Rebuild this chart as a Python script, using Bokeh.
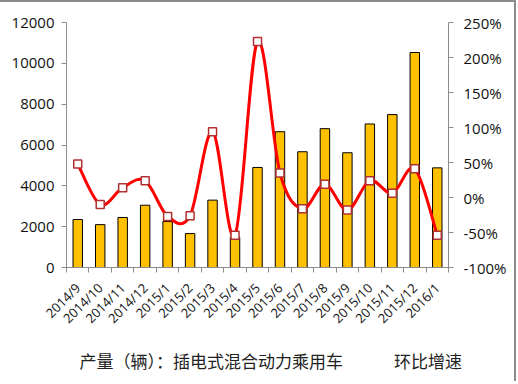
from bokeh.plotting import figure
from bokeh.models import (Range1d, LinearAxis, FixedTicker, NumeralTickFormatter, Title)
from bokeh.embed import file_html
from bokeh.resources import INLINE
import math

categories = ["2014/9", "2014/10", "2014/11", "2014/12", "2015/1", "2015/2", "2015/3",
              "2015/4", "2015/5", "2015/6", "2015/7", "2015/8", "2015/9", "2015/10",
              "2015/11", "2015/12", "2016/1"]
production = [2350, 2100, 2450, 3050, 2250, 1660, 3300, 1480, 4900, 6650, 5670,
              6800, 5620, 7030, 7490, 10530, 4880]
growth = [0.48, -0.10, 0.14, 0.24, -0.27, -0.26, 0.94, -0.54, 2.23, 0.35, -0.16,
          0.19, -0.18, 0.24, 0.06, 0.41, -0.54]
left_ticks = [0, 2000, 4000, 6000, 8000, 10000, 12000]
right_ticks = [-1.0, -0.5, 0.0, 0.5, 1.0, 1.5, 2.0, 2.5]
series_names = ["产量（辆）：插电式混合动力乘用车", "环比增速"]

n = len(categories)
xs = [i + 0.5 for i in range(n)]

FONT = "Open Sans"
CJK = "Noto Sans CJK SC"
AXIS_COLOR = "#8c8c8c"

p = figure(width=514, height=376, frame_width=382, frame_height=245,
           output_backend="svg", toolbar_location=None,
           x_range=Range1d(0, n), y_range=Range1d(0, 12000),
           min_border_left=66, min_border_right=66, min_border_top=20,
           min_border_bottom=20)
p.outline_line_color = None
p.grid.visible = False
p.extra_y_ranges = {"pct": Range1d(-1.0, 2.5)}

bars = p.vbar(x=xs, top=production, width=0.42, bottom=0,
              fill_color="#FFC000", line_color="#000000", line_width=1)

# smoothed line (Catmull-Rom -> cubic Bezier, as in spreadsheet smoothing)
x0, y0, x1, y1, cx0, cy0, cx1, cy1 = [], [], [], [], [], [], [], []
for i in range(n - 1):
    pm = (xs[max(i - 1, 0)], growth[max(i - 1, 0)])
    pa = (xs[i], growth[i])
    pb = (xs[i + 1], growth[i + 1])
    pn = (xs[min(i + 2, n - 1)], growth[min(i + 2, n - 1)])
    x0.append(pa[0]); y0.append(pa[1]); x1.append(pb[0]); y1.append(pb[1])
    cx0.append(pa[0] + (pb[0] - pm[0]) / 6); cy0.append(pa[1] + (pb[1] - pm[1]) / 6)
    cx1.append(pb[0] - (pn[0] - pa[0]) / 6); cy1.append(pb[1] - (pn[1] - pa[1]) / 6)
curve = p.bezier(x0=x0, y0=y0, x1=x1, y1=y1, cx0=cx0, cy0=cy0, cx1=cx1, cy1=cy1,
                 line_color="#FF0000", line_width=3, y_range_name="pct")
marks = p.scatter(x=xs, y=growth, marker="square", size=8, fill_color="white",
                  line_color="#B03030", line_width=1.5, y_range_name="pct")

# axes
p.xaxis.ticker = FixedTicker(ticks=xs, minor_ticks=list(range(n + 1)))
p.xaxis.major_label_overrides = {x: c for x, c in zip(xs, categories)}
p.xaxis.major_label_orientation = math.pi / 4
p.xaxis.major_tick_line_color = None
p.xaxis.minor_tick_line_color = AXIS_COLOR
p.xaxis.minor_tick_out = 5
p.xaxis.minor_tick_in = 0
p.xaxis.major_label_text_font = FONT
p.xaxis.major_label_text_font_size = "13px"
p.xaxis.major_label_text_color = "#111111"
p.xaxis.major_label_standoff = 12
p.xaxis.axis_line_color = AXIS_COLOR

p.yaxis.ticker = FixedTicker(ticks=left_ticks, minor_ticks=[])
p.yaxis.major_tick_out = 5
p.yaxis.major_tick_in = 0
p.yaxis.major_tick_line_color = AXIS_COLOR
p.yaxis.axis_line_color = AXIS_COLOR
p.yaxis.major_label_text_font = FONT
p.yaxis.major_label_text_font_size = "15px"
p.yaxis.major_label_text_color = "#111111"
p.yaxis.major_label_standoff = 7

ra = LinearAxis(y_range_name="pct", ticker=FixedTicker(ticks=right_ticks, minor_ticks=[]),
                formatter=NumeralTickFormatter(format="0%"))
ra.major_tick_out = 5
ra.major_tick_in = 0
ra.major_tick_line_color = AXIS_COLOR
ra.axis_line_color = AXIS_COLOR
ra.major_label_text_font = FONT
ra.major_label_text_font_size = "15px"
ra.major_label_text_color = "#111111"
ra.major_label_standoff = 10
p.add_layout(ra, "right")

# series key below the category labels
key = Title(text=series_names[0] + "\u3000\u3000\u3000" + series_names[1],
            align="left", offset=13, standoff=18,
            text_font=CJK, text_font_size="17px", text_font_style="normal",
            text_color="#222222")
p.add_layout(key, "below")

p.styles = {"border-top": "2px solid #8c8c8c", "border-right": "2px solid #8c8c8c"}

open("out.html", "w").write(file_html(p, INLINE))
